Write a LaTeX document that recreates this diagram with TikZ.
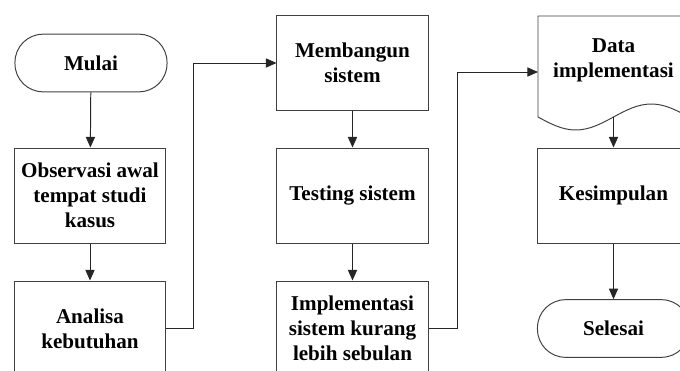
\documentclass[tikz,border=0pt]{standalone}
\usepackage{fontspec}
\setmainfont{Liberation Serif}
\usepackage{tikz}
\usetikzlibrary{arrows.meta}

\tikzset{
  box/.style={draw=black!75, line width=0.7pt, rectangle, minimum width=3.775cm,
    minimum height=2.375cm, align=center, inner sep=1pt},
  terminal/.style={draw=black!75, line width=0.7pt, rectangle, rounded corners=0.7cm,
    minimum width=3.8cm, minimum height=1.44cm, align=center},
  flowline/.style={->, line width=0.7pt, black!85},
}

\begin{document}
\begin{tikzpicture}[x=0.025cm, y=-0.025cm, >={Triangle[length=7.5pt,width=6.5pt]},
  font=\fontsize{15}{17.8}\selectfont\bfseries]

\useasboundingbox (0,0) rectangle (680,370);
\clip (0,0) rectangle (680,370);

% Kolom kiri
\node[terminal] (mulai) at (91,63) {Mulai};
\node[box] (observasi) at (90,195.5) {Observasi awal\\tempat studi\\kasus};
\node[box] (analisa) at (90,328.5) {Analisa\\kebutuhan};

% Kolom tengah
\node[box] (membangun) at (352.5,63) {Membangun\\sistem};
\node[box] (testing) at (352.5,195.5) {Testing sistem};
\node[box] (implementasi) at (352.5,328.5) {Implementasi\\sistem kurang\\lebih sebulan};

% Kolom kanan (dokumen)
\draw[draw=black!75, line width=0.7pt] (538,16) -- (538,117) sin (575.75,130) cos (613.5,117)
  sin (651.25,104) cos (689,117) -- (689,16) -- cycle;
\node[align=center] (data) at (613.5,60) {Data\\implementasi};
\coordinate (datain) at (538,72);
\coordinate (dataout) at (613.5,117);
\node[box] (kesimpulan) at (613.5,195.5) {Kesimpulan};
\node[terminal] (selesai) at (613.5,328.5) {Selesai};

% Panah
\draw[flowline] (mulai) -- (observasi);
\draw[flowline] (observasi) -- (analisa);
\draw[flowline] (analisa.east) -- ++(27,0) |- (membangun.west);
\draw[flowline] (membangun) -- (testing);
\draw[flowline] (testing) -- (implementasi);
\draw[flowline] (implementasi.east) -- ++(29,0) |- (datain);
\draw[flowline] (dataout) -- (kesimpulan);
\draw[flowline] (kesimpulan) -- (selesai);

\end{tikzpicture}
\end{document}
